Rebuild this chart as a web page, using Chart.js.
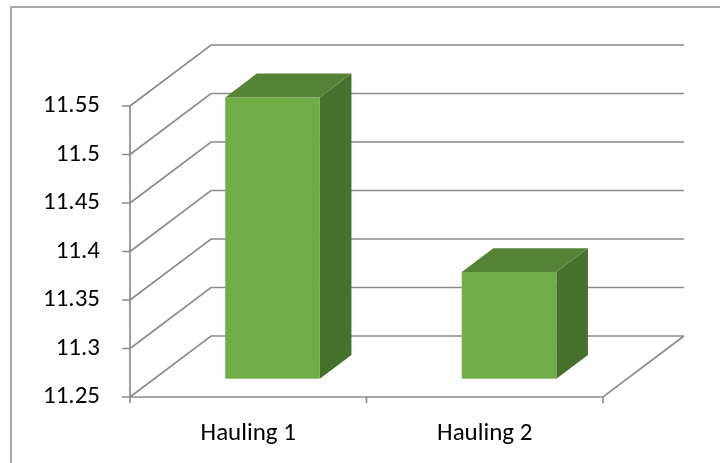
<!DOCTYPE html>
<html>
<head>
<meta charset="utf-8">
<script src="https://cdn.jsdelivr.net/npm/chart.js@4.4.0/dist/chart.umd.min.js"></script>
<style>
  html, body { margin: 0; padding: 0; background: #fff; }
  #wrap { position: relative; width: 720px; height: 463px; }
</style>
</head>
<body>
<div id="wrap"><canvas id="haulChart" width="720" height="463"></canvas></div>
<script>
const categories = ["Hauling 1", "Hauling 2"];
const haulValues = [11.54, 11.36];
const yTicks = [11.25, 11.3, 11.35, 11.4, 11.45, 11.5, 11.55];

// 3D look: how far the back wall sits from the front plane, and where the bars sit in that depth
const DEPTH_X = 81, DEPTH_Y = -61;
const BAR_FRONT = 0.3, BAR_BACK = 0.69;
const LINE_COLOR = "#8c8c8c";
const FONT = "Carlito, 'Liberation Sans', Arial, sans-serif";

const columns3d = {
  id: "columns3d",
  beforeDraw(chart) {
    const ctx = chart.ctx;
    // outer frame, only the top and left edges fall inside the canvas
    ctx.save();
    ctx.fillStyle = "#a8a8a8";
    ctx.fillRect(10, 6, chart.width - 10, 2);
    ctx.fillRect(10, 6, 2, chart.height - 6);
    ctx.restore();
  },
  beforeDatasetsDraw(chart) {
    const ctx = chart.ctx;
    const y = chart.scales.y;
    const { left, right, top, bottom } = chart.chartArea;
    const bars = chart.getDatasetMeta(0).data;

    ctx.save();
    ctx.strokeStyle = LINE_COLOR;
    ctx.lineWidth = 1.7;
    ctx.beginPath();
    // side wall diagonals + back wall gridlines + y tick marks
    yTicks.forEach(v => {
      const py = y.getPixelForValue(v);
      ctx.moveTo(left, py);
      ctx.lineTo(left + DEPTH_X, py + DEPTH_Y);
      ctx.lineTo(right + DEPTH_X, py + DEPTH_Y);
      ctx.moveTo(left - 8, py);
      ctx.lineTo(left, py);
    });
    // front value axis
    ctx.moveTo(left, top);
    ctx.lineTo(left, bottom);
    // floor: front edge and right edge
    ctx.moveTo(left, bottom);
    ctx.lineTo(right, bottom);
    ctx.lineTo(right + DEPTH_X, bottom + DEPTH_Y);
    // category tick marks
    const bounds = [left, (bars[0].x + bars[1].x) / 2, right];
    bounds.forEach(bx => {
      ctx.moveTo(bx, bottom);
      ctx.lineTo(bx, bottom + 6);
    });
    ctx.stroke();
    ctx.restore();
  },
  afterDatasetsDraw(chart) {
    const ctx = chart.ctx;
    const y = chart.scales.y;
    const floor = y.getPixelForValue(y.min);
    const bars = chart.getDatasetMeta(0).data;
    bars.forEach(bar => {
      const fx = bar.x - bar.width / 2 + BAR_FRONT * DEPTH_X;
      const fy = BAR_FRONT * DEPTH_Y;
      const w = bar.width;
      const top = bar.y + fy, base = floor + fy;
      const bdx = (BAR_BACK - BAR_FRONT) * DEPTH_X;
      const bdy = (BAR_BACK - BAR_FRONT) * DEPTH_Y;

      ctx.save();
      // right side
      ctx.fillStyle = "#47702c";
      ctx.beginPath();
      ctx.moveTo(fx + w, top);
      ctx.lineTo(fx + w + bdx, top + bdy);
      ctx.lineTo(fx + w + bdx, base + bdy);
      ctx.lineTo(fx + w, base);
      ctx.closePath();
      ctx.fill();
      // top
      ctx.fillStyle = "#568236";
      ctx.beginPath();
      ctx.moveTo(fx, top);
      ctx.lineTo(fx + bdx, top + bdy);
      ctx.lineTo(fx + w + bdx, top + bdy);
      ctx.lineTo(fx + w, top);
      ctx.closePath();
      ctx.fill();
      // front
      ctx.fillStyle = "#70ad47";
      ctx.fillRect(fx, top, w, base - top);
      ctx.restore();
    });
  }
};

new Chart(document.getElementById("haulChart"), {
  type: "bar",
  data: {
    labels: categories,
    datasets: [{
      data: haulValues,
      backgroundColor: "rgba(0,0,0,0)",
      borderWidth: 0,
      barPercentage: 0.4,
      categoryPercentage: 1
    }]
  },
  options: {
    responsive: false,
    animation: false,
    events: [],
    layout: { padding: { left: 0, top: 106, right: 117, bottom: 0 } },
    plugins: { legend: { display: false }, tooltip: { enabled: false } },
    scales: {
      x: {
        grid: { display: false },
        border: { display: false },
        ticks: { color: "#000", font: { family: FONT, size: 25 }, padding: 14 },
        afterFit(scale) { scale.height = 66; }
      },
      y: {
        min: 11.25,
        max: 11.55,
        grid: { display: false },
        border: { display: false },
        afterBuildTicks(scale) { scale.ticks = yTicks.map(v => ({ value: v })); },
        ticks: {
          color: "#000",
          font: { family: FONT, size: 25 },
          padding: 22,
          callback: v => String(v)
        },
        afterFit(scale) { scale.width = 130; }
      }
    }
  },
  plugins: [columns3d]
});
</script>
</body>
</html>
